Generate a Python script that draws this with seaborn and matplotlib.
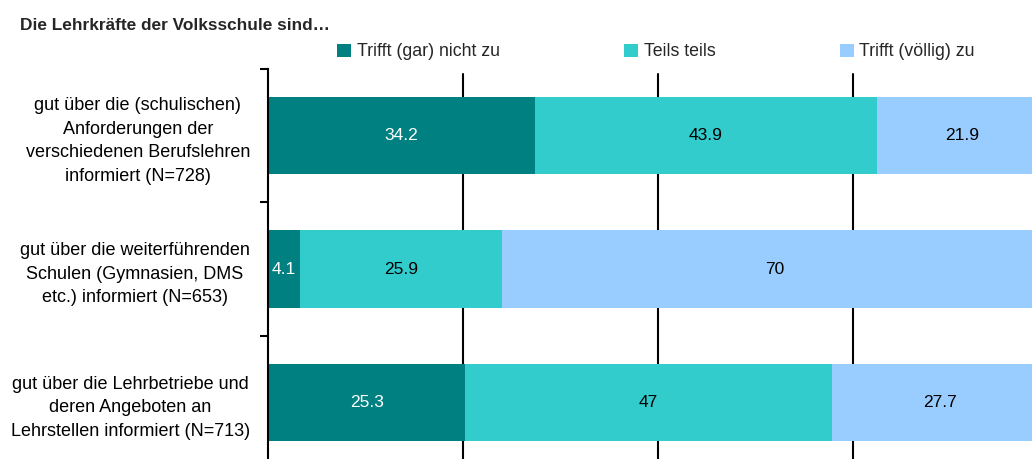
import numpy as np
import pandas as pd
import matplotlib
matplotlib.use("Agg")
import matplotlib.pyplot as plt
from matplotlib.patches import Patch
import seaborn as sns

categories = [
    "gut über die (schulischen)\nAnforderungen der\nverschiedenen Berufslehren\ninformiert (N=728)",
    "gut über die weiterführenden\nSchulen (Gymnasien, DMS\netc.) informiert (N=653)",
    "gut über die Lehrbetriebe und\nderen Angeboten an\nLehrstellen informiert (N=713)",
]
series_names = ["Trifft (gar) nicht zu", "Teils teils", "Trifft (völlig) zu"]
nicht_zu = [34.2, 4.1, 25.3]
teils = [43.9, 25.9, 47.0]
zu = [21.9, 70.0, 27.7]
colors = ["#008080", "#33CCCC", "#99CCFF"]
label_colors = ["white", "black", "black"]
title = "Die Lehrkräfte der Volksschule sind…"
grid_values = [25, 50, 75]

sns.set_theme(style="white")
plt.rcParams["font.family"] = ["Liberation Sans", "DejaVu Sans"]

values = np.array([nicht_zu, teils, zu])
cum = values.cumsum(axis=0)

W, H = 1032, 459
fig = plt.figure(figsize=(W / 100, H / 100), dpi=100)
ax = fig.add_axes([268 / W, -10 / H, 780 / W, 400 / H])

for k in reversed(range(3)):
    df = pd.DataFrame({"cat": categories, "val": cum[k]})
    sns.barplot(data=df, x="val", y="cat", orient="h", color=colors[k],
                saturation=1, width=0.58, errorbar=None, ax=ax, zorder=2,
                linewidth=0)

for g in grid_values:
    ax.axvline(g, ymin=0, ymax=1 - 5 / 400, color="black", lw=1.5, zorder=1)

for i in range(len(categories)):
    for k in range(3):
        v = values[k][i]
        center = cum[k][i] - v / 2
        ax.text(center, i, f"{v:g}", ha="center", va="center",
                color=label_colors[k], fontsize=12.5, zorder=3)

ax.set_xlim(0, 100)
ax.set_ylim(2.5, -0.5)
ax.set_xticks([])
ax.set_xlabel("")
ax.set_ylabel("")
ax.set_yticks(range(len(categories)))
ax.set_yticklabels(categories, fontsize=13, linespacing=1.5)
for lbl in ax.get_yticklabels():
    lbl.set_multialignment("center")
ax.set_yticks([-0.5, 0.5, 1.5, 2.5], minor=True)
ax.tick_params(axis="y", which="major", length=0, pad=13, labelcolor="black")
ax.tick_params(axis="y", which="minor", length=6, width=1.5, color="black", left=True)
for s in ["top", "right", "bottom"]:
    ax.spines[s].set_visible(False)
ax.spines["left"].set_color("black")
ax.spines["left"].set_linewidth(1.5)

handles = [Patch(facecolor=c, edgecolor="none") for c in colors]
fig.legend(handles, series_names, loc="center left",
           bbox_to_anchor=(337 / W, 1 - 52 / H), ncol=3, frameon=False,
           fontsize=12.8, handlelength=0.8, handleheight=0.8,
           handletextpad=0.3, columnspacing=7.0, borderpad=0, borderaxespad=0)

fig.text(20 / W, 1 - 26 / H, title, fontsize=12.4, fontweight="bold",
         va="center", ha="left")

fig.savefig("out.png", dpi=100)
